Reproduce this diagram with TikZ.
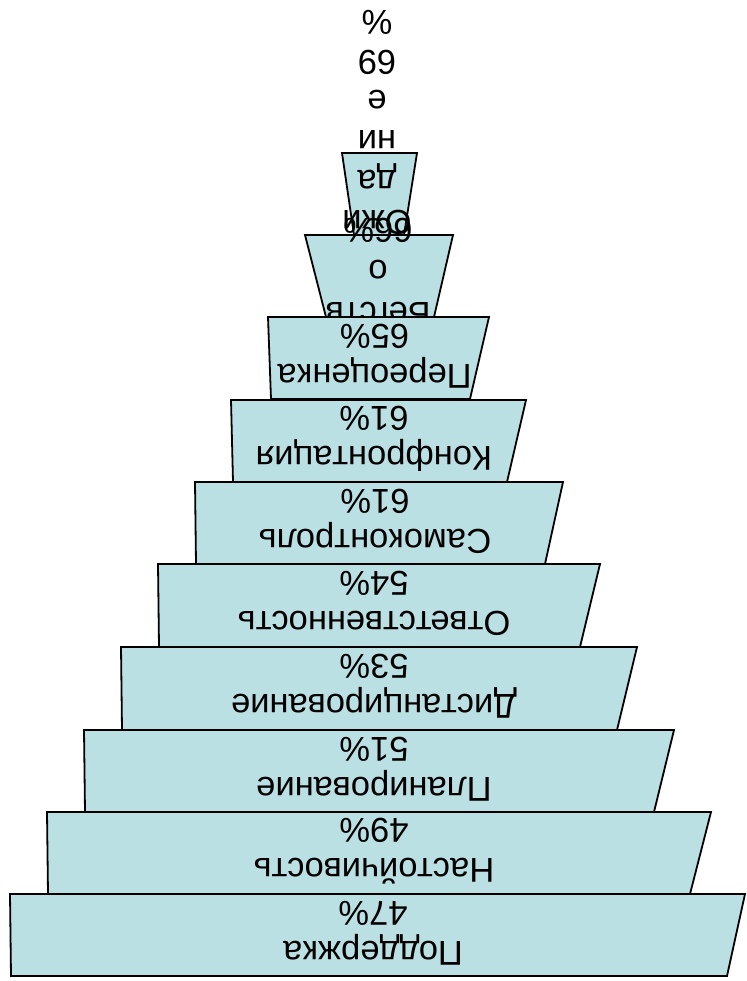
\documentclass[tikz,border=0pt]{standalone}
\usepackage{fontspec}
\newfontfamily\lvlfont{Liberation Sans}
\definecolor{lvlblue}{RGB}{187,224,227}
\begin{document}
\begin{tikzpicture}[x=1pt,y=-1pt,
  lvl/.style={draw=black, fill=lvlblue, line width=1.8pt, line join=miter},
  txt/.style={rotate=180, align=center, inner sep=0pt,
    font={\lvlfont\fontsize{34.5}{40}\selectfont}}]
\useasboundingbox (0,0) rectangle (746,981);
% level 10
\path[lvl] (342,153) -- (417,153) -- (404,235) -- (354,235) -- cycle;
\node[txt] (t10) at (377,122.5) {Ожи\\да\\ни\\е\\69\\\%};
% level 9
\path[lvl] (305,235) -- (453,235) -- (434,317) -- (326,317) -- cycle;
\node[txt, font={\lvlfont\fontsize{34.5}{42}\selectfont}] (t9) at (378,272) {Бегств\\о\\66\%};
% level 8
\path[lvl] (268,317) -- (489,317) -- (470,399) -- (271,399) -- cycle;
\node[txt] (t8) at (374.5,356) {Переоценка\\65\%};
% level 7
\path[lvl] (231,400) -- (526,400) -- (507,482) -- (233,482) -- cycle;
\node[txt] (t7) at (374,439) {Конфронтация\\61\%};
% level 6
\path[lvl] (195,482) -- (563,482) -- (545,564) -- (196,564) -- cycle;
\node[txt] (t6) at (375,521) {Самоконтроль\\61\%};
% level 5
\path[lvl] (158,564) -- (600,564) -- (580,647) -- (159,647) -- cycle;
\node[txt] (t5) at (374,603.5) {Ответственность\\54\%};
% level 4
\path[lvl] (121,647) -- (637,647) -- (617,730) -- (122,730) -- cycle;
\node[txt] (t4) at (374,686.5) {Дистанцирование\\53\%};
% level 3
\path[lvl] (84,730) -- (674,730) -- (654,812) -- (85,812) -- cycle;
\node[txt] (t3) at (374,769) {Планирование\\51\%};
% level 2
\path[lvl] (47,812) -- (711,812) -- (690,894) -- (48,894) -- cycle;
\node[txt] (t2) at (374,851) {Настойчивость\\49\%};
% level 1
\path[lvl] (10,894) -- (745,894) -- (727,976) -- (11,976) -- cycle;
\node[txt] (t1) at (373,933) {Поддержка\\47\%};
\end{tikzpicture}
\end{document}
